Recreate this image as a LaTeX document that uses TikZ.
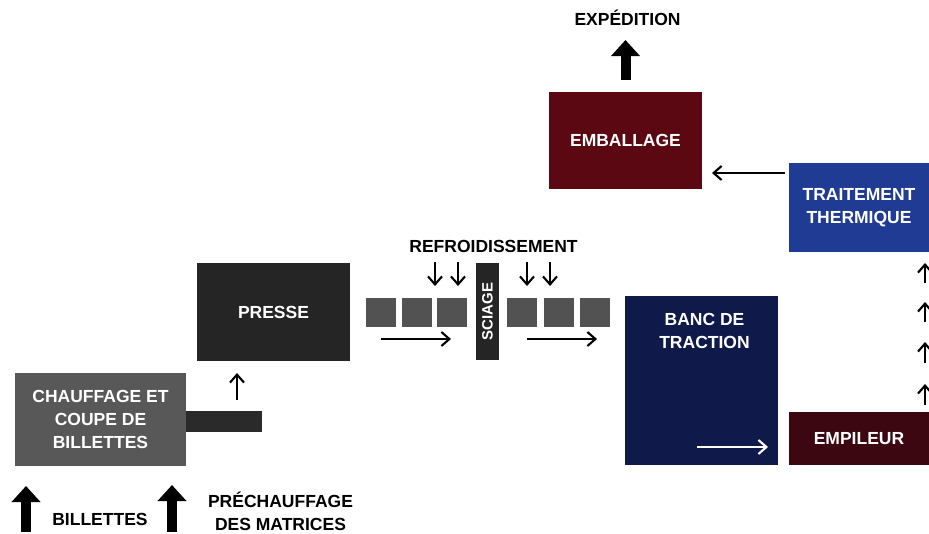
\documentclass[tikz,border=0pt]{standalone}
\usepackage{fontspec}
\setmainfont{Liberation Sans}
\usetikzlibrary{arrows.meta, positioning, calc}

\definecolor{grisChauffe}{HTML}{585858}
\definecolor{grisPresse}{HTML}{252525}
\definecolor{grisBarre}{HTML}{2A2A2A}
\definecolor{grisCuadro}{HTML}{525252}
\definecolor{azulBanc}{HTML}{0F1A4B}
\definecolor{azulTraite}{HTML}{203B94}
\definecolor{granateEmb}{HTML}{5C0813}
\definecolor{granateEmp}{HTML}{3C0710}

\newcommand{\etiq}{\fontsize{17.5}{23}\selectfont\bfseries}

\begin{document}
\begin{tikzpicture}[
		x=1pt, y=-1pt,
		% Bloques rellenos con texto blanco
		bloque/.style = {rectangle, inner sep=0pt, outer sep=0pt, text=white, align=center, font=\etiq},
		% Piezas (cuadros) sobre la linea
		cuadro/.style = {rectangle, inner sep=0pt, outer sep=0pt, fill=grisCuadro, minimum width=30pt, minimum height=29pt},
		texto/.style = {inner sep=0pt, align=center, font=\etiq},
		flecha/.style = {-{Straight Barb[length=8pt,width=14pt]}, line width=2.1pt},
		gruesa/.style = {-{Triangle[length=16pt,width=28pt]}, line width=10pt}
		]
		\useasboundingbox (0,0) rectangle (929,533);
		
		% --- ENTRADA: Chauffage y prensa ---
		\node [bloque, fill=grisChauffe, minimum width=171pt, minimum height=93pt] (chauffe) at (100.5,419) {CHAUFFAGE ET\\COUPE DE\\BILLETTES};
		\node [bloque, fill=grisBarre, minimum width=76pt, minimum height=21pt] (barre) at (224,421.5) {};
		\node [bloque, fill=grisPresse, minimum width=153pt, minimum height=98pt] (presse) at (273.5,312) {PRESSE};
		
		\coordinate (desde) at ($(barre.north)+(13,-11)$);
		\draw [flecha] (desde) -- ($(desde |- presse.south)+(0,12)$);
		
		% --- LINEA: enfriamiento y sierra ---
		\node [texto] (refroid) at (493.5,246.5) {REFROIDISSEMENT};
		
		\node [cuadro] (c1) at (381,312.5) {};
		\node [cuadro, right=5.5pt of c1] (c2) {};
		\node [cuadro, right=5.5pt of c2] (c3) {};
		\node [bloque, fill=grisPresse, rotate=90, minimum width=97pt, minimum height=23pt, font=\fontsize{15}{15}\selectfont\bfseries] (sciage) at (487.5,311.5) {SCIAGE};
		\node [cuadro] (c4) at (521.5,312.5) {};
		\node [cuadro, right=7pt of c4] (c5) {};
		\node [cuadro, right=6pt of c5] (c6) {};
		
		\draw [flecha] (435,262) -- (435,286);
		\draw [flecha] (458,262) -- (458,286);
		\draw [flecha] (527,262) -- (527,286);
		\draw [flecha] (550,262) -- (550,286);
		
		\draw [flecha] ($(c1.south)+(0,12)$) -- ++(70,0);
		\draw [flecha] ($(c4.south)+(5.5,12)$) -- ++(70,0);
		
		% --- BANCO DE TRACCION Y APILADOR ---
		\node [bloque, fill=azulBanc, minimum width=153pt, minimum height=169pt] (banc) at (701.5,380.5) {};
		\node [texto, text=white, anchor=north] at ([xshift=3pt,yshift=-17pt]banc.north) {BANC DE\\TRACTION};
		\draw [flecha, white] (697,447) -- (768,447);
		
		\node [bloque, fill=granateEmp, minimum width=140pt, minimum height=53pt] (empileur) at (859,438.5) {EMPILEUR};
		
		\draw [flecha] (925,405) -- ++(0,-21);
		\draw [flecha] (925,363) -- ++(0,-21);
		\draw [flecha] (925,322) -- ++(0,-20);
		\draw [flecha] (925,283) -- ++(0,-20);
		
		% --- SALIDA: tratamiento, embalaje y expedicion ---
		\node [bloque, fill=azulTraite, minimum width=140pt, minimum height=89pt] (traitement) at (859,207.5) {TRAITEMENT\\THERMIQUE};
		\node [bloque, fill=granateEmb, minimum width=153pt, minimum height=97pt] (emballage) at (625.5,140.5) {EMBALLAGE};
		
		\coordinate (t1) at ([xshift=-4pt,yshift=-10pt]traitement.north west);
		\draw [flecha] (t1) -- ($(t1 -| emballage.east)+(10,0)$);
		
		\node [texto, anchor=base] (expedition) at (627.5,25) {EXPÉDITION};
		\draw [gruesa] ([yshift=12pt]emballage.north) -- ++(0,-40);
		
		% --- ENTRADAS INFERIORES ---
		\coordinate (entrada1) at (26,532);
		\coordinate (entrada2) at (172,532);
		\draw [gruesa] (entrada1) -- ++(0,-46);
		\draw [gruesa] (entrada2) -- ++(0,-47);
		\node [texto, anchor=base] (billettes) at (100,525) {BILLETTES};
		\node [texto, anchor=base] (matrices) at (280.5,530) {PRÉCHAUFFAGE\\DES MATRICES};
		
	\end{tikzpicture}
\end{document}
